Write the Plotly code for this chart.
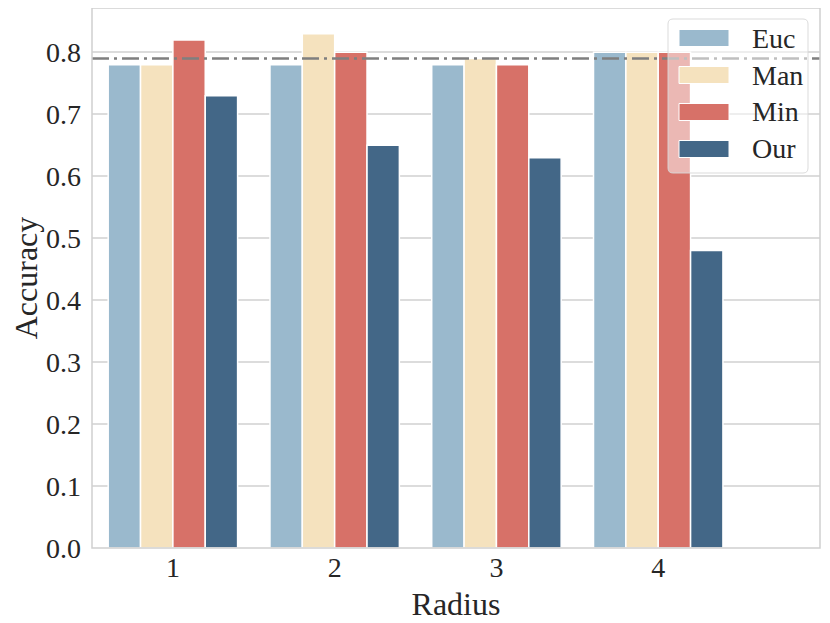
import plotly.graph_objects as go

radius = ["1", "2", "3", "4"]
series_names = ["Euc", "Man", "Min", "Our"]
euc = [0.78, 0.78, 0.78, 0.80]
man = [0.78, 0.83, 0.79, 0.80]
minv = [0.82, 0.80, 0.78, 0.80]
our = [0.73, 0.65, 0.63, 0.48]
baseline = 0.79

colors = ["#9ab9cd", "#f5e2be", "#d77168", "#436787"]
values = [euc, man, minv, our]

FONT = "Liberation Serif"
TXT = "#262626"

OFF = 8  # page body margin
W, H = 830 - OFF, 623 - OFF
# plot area in page pixels
PL, PR, PT, PB = 92, 820, 7, 548
L, R, T, B = PL - OFF, PR - OFF, max(PT - OFF, 0), PB - OFF

fig = go.Figure()
for name, vals, c in zip(series_names, values, colors):
    fig.add_trace(go.Bar(
        x=radius, y=vals, name=name, marker_color=c,
        marker_line_color="white", marker_line_width=1.5,
        showlegend=False,
    ))

def px(x):
    return (x - OFF - L) / (R - L)

def py(y):
    return (B - (y - OFF)) / (B - T)

shapes = []
shapes.append(dict(type="line", xref="paper", yref="y", x0=0, x1=1,
                   y0=baseline, y1=baseline,
                   line=dict(color="#7f7f7f", width=2.5, dash="17px,5px,3px,5px"),
                   layer="above"))
# frame
shapes.append(dict(type="rect", xref="paper", yref="paper", x0=0, x1=1, y0=0, y1=1,
                   line=dict(color="#d0d0d0", width=1.5), fillcolor="rgba(0,0,0,0)",
                   layer="above"))

# manual legend (page pixel coords)
lx0, lx1, ly0, ly1 = 668, 808, 19, 173
r = 5
x0p, x1p = px(lx0), px(lx1)
y0p, y1p = py(ly0), py(ly1)
rx = r / (R - L)
ry = r / (B - T)
path = (f"M {x0p+rx},{y0p} L {x1p-rx},{y0p} Q {x1p},{y0p} {x1p},{y0p-ry} "
        f"L {x1p},{y1p+ry} Q {x1p},{y1p} {x1p-rx},{y1p} L {x0p+rx},{y1p} "
        f"Q {x0p},{y1p} {x0p},{y1p+ry} L {x0p},{y0p-ry} Q {x0p},{y0p} {x0p+rx},{y0p} Z")
shapes.append(dict(type="path", xref="paper", yref="paper", path=path,
                   fillcolor="rgba(255,255,255,0.5)",
                   line=dict(color="rgba(215,215,215,0.9)", width=1), layer="above"))
annotations = []
centers = [38, 75, 112, 149]
for name, c, yc in zip(series_names, colors, centers):
    shapes.append(dict(type="rect", xref="paper", yref="paper",
                       x0=px(679), x1=px(729), y0=py(yc - 8.5), y1=py(yc + 8.5),
                       fillcolor=c, line=dict(color="white", width=1), layer="above"))
    annotations.append(dict(xref="paper", yref="paper", x=px(750), y=py(yc),
                            text=name, showarrow=False, xanchor="left", yanchor="middle",
                            font=dict(family=FONT, size=28, color=TXT)))

fig.update_layout(
    width=W, height=H,
    margin=dict(l=L, r=W - R, t=T, b=H - B, autoexpand=False),
    paper_bgcolor="white", plot_bgcolor="white",
    barmode="group", bargap=0.2, bargroupgap=0,
    font=dict(family=FONT, color=TXT, size=26),
    shapes=shapes, annotations=annotations,
    xaxis=dict(
        type="category", range=[-0.5, 4.0], automargin=False,
        showgrid=False, showline=False,
        ticks="", tickfont=dict(family=FONT, size=28, color=TXT),
        ticklabelstandoff=0,
        title=dict(text="Radius", font=dict(family=FONT, size=32, color=TXT), standoff=10),
    ),
    yaxis=dict(
        range=[0, 0.8715], automargin=False,
        tickvals=[0, 0.1, 0.2, 0.3, 0.4, 0.5, 0.6, 0.7, 0.8],
        ticktext=["0.0", "0.1", "0.2", "0.3", "0.4", "0.5", "0.6", "0.7", "0.8"],
        showgrid=True, gridcolor="#dcdcdc", gridwidth=1.5, zeroline=False,
        showline=False,
        ticks="", tickfont=dict(family=FONT, size=28, color=TXT),
        ticklabelstandoff=10,
        title=dict(text="Accuracy", font=dict(family=FONT, size=32, color=TXT), standoff=10),
    ),
)

fig.write_html("out.html")
